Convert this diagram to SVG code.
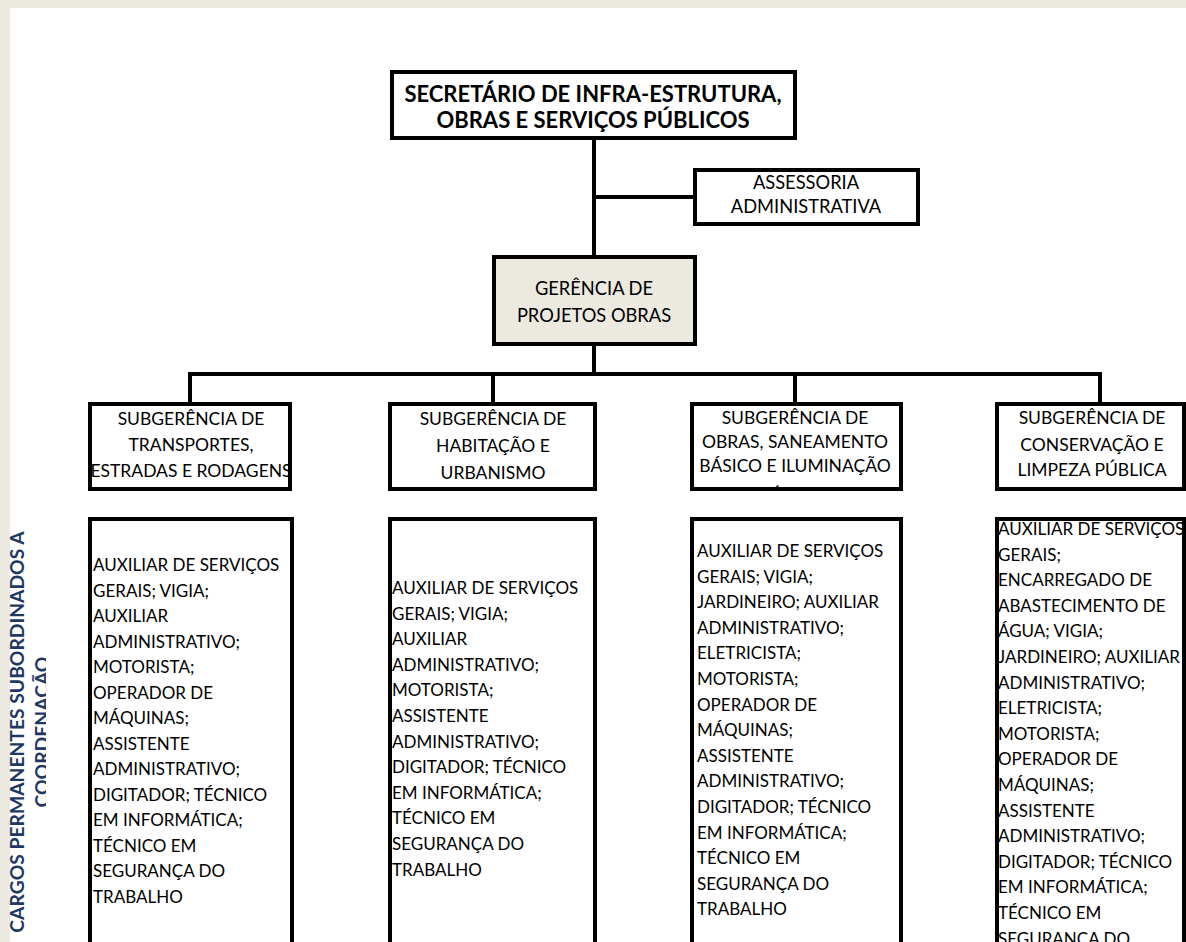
<svg xmlns="http://www.w3.org/2000/svg" width="1186" height="942" viewBox="0 0 1186 942">
<style>
.box{fill:#fff;stroke:#000;stroke-width:4}
.beige{fill:#ECE9E0}
.conn{stroke:#000;stroke-width:4;fill:none;stroke-linecap:square}
.t{font-family:Lato,"Liberation Sans",sans-serif;font-size:17px;fill:#000}
.s{font-family:Lato,"Liberation Sans",sans-serif;font-size:17.5px;fill:#000;text-anchor:middle}
.m{font-family:Lato,"Liberation Sans",sans-serif;font-size:18.3px;fill:#000;text-anchor:middle}
.title{font-family:Lato,"Liberation Sans",sans-serif;font-size:22px;font-weight:bold;fill:#000;text-anchor:middle}
.side{font-family:Lato,"Liberation Sans",sans-serif;font-size:19.3px;font-weight:bold;fill:#1F3864;text-anchor:middle}
</style>
<defs>
<clipPath id="clip3"><rect x="694" y="406" width="205" height="82"/></clipPath>
<clipPath id="clipSide"><rect x="0" y="0" width="46" height="942"/></clipPath>
</defs>
<rect x="0" y="0" width="1186" height="942" fill="#fff"/>
<rect x="0" y="0" width="1186" height="8" class="beige"/>
<rect x="0" y="0" width="10" height="942" class="beige"/>

<g id="side-label" clip-path="url(#clipSide)">
<text class="side" transform="translate(24,732) rotate(-90)">CARGOS PERMANENTES SUBORDINADOS A</text>
<text class="side" transform="translate(49,732) rotate(-90)">COORDENAÇÃO</text>
</g>

<g id="connectors">
<line class="conn" x1="594" y1="140" x2="594" y2="255"/>
<line class="conn" x1="594" y1="197" x2="693" y2="197"/>
<line class="conn" x1="594" y1="346" x2="594" y2="374"/>
<line class="conn" x1="190" y1="374" x2="1100" y2="374"/>
<line class="conn" x1="190" y1="374" x2="190" y2="402"/>
<line class="conn" x1="493" y1="374" x2="493" y2="402"/>
<line class="conn" x1="795" y1="374" x2="795" y2="402"/>
<line class="conn" x1="1100" y1="374" x2="1100" y2="402"/>
</g>

<g id="secretario">
<rect class="box" x="392" y="72" width="403" height="66"/>
<text class="title" x="593" y="102">SECRETÁRIO DE INFRA-ESTRUTURA,</text>
<text class="title" x="593" y="128">OBRAS E SERVIÇOS PÚBLICOS</text>
</g>

<g id="assessoria">
<rect class="box" x="695" y="170" width="223" height="54"/>
<text class="m" x="806" y="189">ASSESSORIA</text>
<text class="m" x="806" y="213">ADMINISTRATIVA</text>
</g>

<g id="gerencia">
<rect class="box" x="494" y="257" width="201" height="87" style="fill:#ECE9E0"/>
<text class="m" x="594" y="295">GERÊNCIA DE</text>
<text class="m" x="594" y="322">PROJETOS OBRAS</text>
</g>

<g id="sub-transportes">
<rect class="box" x="90" y="404" width="200" height="85"/>
<text class="s" x="191" y="425">SUBGERÊNCIA DE</text>
<text class="s" x="191" y="451">TRANSPORTES,</text>
<text class="s" x="191" y="477">ESTRADAS E RODAGENS</text>
</g>

<g id="sub-habitacao">
<rect class="box" x="390" y="404" width="205" height="85"/>
<text class="s" x="493" y="425">SUBGERÊNCIA DE</text>
<text class="s" x="493" y="452">HABITAÇÃO E</text>
<text class="s" x="493" y="479">URBANISMO</text>
</g>

<g id="sub-obras">
<rect class="box" x="692" y="404" width="209" height="85"/>
<g clip-path="url(#clip3)">
<text class="s" x="795" y="424">SUBGERÊNCIA DE</text>
<text class="s" x="795" y="448">OBRAS, SANEAMENTO</text>
<text class="s" x="795" y="472">BÁSICO E ILUMINAÇÃO</text>
<text class="s" x="795" y="502">PÚBLICA</text>
</g>
</g>

<g id="sub-conservacao">
<rect class="box" x="997" y="404" width="187" height="85"/>
<text class="s" x="1092" y="424">SUBGERÊNCIA DE</text>
<text class="s" x="1092" y="451">CONSERVAÇÃO E</text>
<text class="s" x="1092" y="476">LIMPEZA PÚBLICA</text>
</g>

<g id="cargos-transportes">
<rect class="box" x="90" y="519" width="202" height="440"/>
<text class="t" x="93" y="571">AUXILIAR DE SERVIÇOS</text>
<text class="t" x="93" y="596.5">GERAIS; VIGIA;</text>
<text class="t" x="93" y="622">AUXILIAR</text>
<text class="t" x="93" y="647.5">ADMINISTRATIVO;</text>
<text class="t" x="93" y="673">MOTORISTA;</text>
<text class="t" x="93" y="698.5">OPERADOR DE</text>
<text class="t" x="93" y="724">MÁQUINAS;</text>
<text class="t" x="93" y="749.5">ASSISTENTE</text>
<text class="t" x="93" y="775">ADMINISTRATIVO;</text>
<text class="t" x="93" y="800.5">DIGITADOR; TÉCNICO</text>
<text class="t" x="93" y="826">EM INFORMÁTICA;</text>
<text class="t" x="93" y="851.5">TÉCNICO EM</text>
<text class="t" x="93" y="877">SEGURANÇA DO</text>
<text class="t" x="93" y="902.5">TRABALHO</text>
</g>

<g id="cargos-habitacao">
<rect class="box" x="390" y="519" width="205" height="440"/>
<text class="t" x="392" y="594">AUXILIAR DE SERVIÇOS</text>
<text class="t" x="392" y="619.6">GERAIS; VIGIA;</text>
<text class="t" x="392" y="645.2">AUXILIAR</text>
<text class="t" x="392" y="670.8">ADMINISTRATIVO;</text>
<text class="t" x="392" y="696.4">MOTORISTA;</text>
<text class="t" x="392" y="722">ASSISTENTE</text>
<text class="t" x="392" y="747.6">ADMINISTRATIVO;</text>
<text class="t" x="392" y="773.2">DIGITADOR; TÉCNICO</text>
<text class="t" x="392" y="798.8">EM INFORMÁTICA;</text>
<text class="t" x="392" y="824.4">TÉCNICO EM</text>
<text class="t" x="392" y="850">SEGURANÇA DO</text>
<text class="t" x="392" y="875.6">TRABALHO</text>
</g>

<g id="cargos-obras">
<rect class="box" x="692" y="519" width="209" height="440"/>
<text class="t" x="697" y="557">AUXILIAR DE SERVIÇOS</text>
<text class="t" x="697" y="582.6">GERAIS; VIGIA;</text>
<text class="t" x="697" y="608.2">JARDINEIRO; AUXILIAR</text>
<text class="t" x="697" y="633.8">ADMINISTRATIVO;</text>
<text class="t" x="697" y="659.4">ELETRICISTA;</text>
<text class="t" x="697" y="685">MOTORISTA;</text>
<text class="t" x="697" y="710.6">OPERADOR DE</text>
<text class="t" x="697" y="736.2">MÁQUINAS;</text>
<text class="t" x="697" y="761.8">ASSISTENTE</text>
<text class="t" x="697" y="787.4">ADMINISTRATIVO;</text>
<text class="t" x="697" y="813">DIGITADOR; TÉCNICO</text>
<text class="t" x="697" y="838.6">EM INFORMÁTICA;</text>
<text class="t" x="697" y="864.2">TÉCNICO EM</text>
<text class="t" x="697" y="889.8">SEGURANÇA DO</text>
<text class="t" x="697" y="915.4">TRABALHO</text>
</g>

<g id="cargos-conservacao">
<rect class="box" x="997" y="519" width="187" height="440"/>
<text class="t" x="998" y="535">AUXILIAR DE SERVIÇOS</text>
<text class="t" x="998" y="560.6">GERAIS;</text>
<text class="t" x="998" y="586.2">ENCARREGADO DE</text>
<text class="t" x="998" y="611.8">ABASTECIMENTO DE</text>
<text class="t" x="998" y="637.4">ÁGUA; VIGIA;</text>
<text class="t" x="998" y="663">JARDINEIRO; AUXILIAR</text>
<text class="t" x="998" y="688.6">ADMINISTRATIVO;</text>
<text class="t" x="998" y="714.2">ELETRICISTA;</text>
<text class="t" x="998" y="739.8">MOTORISTA;</text>
<text class="t" x="998" y="765.4">OPERADOR DE</text>
<text class="t" x="998" y="791">MÁQUINAS;</text>
<text class="t" x="998" y="816.6">ASSISTENTE</text>
<text class="t" x="998" y="842.2">ADMINISTRATIVO;</text>
<text class="t" x="998" y="867.8">DIGITADOR; TÉCNICO</text>
<text class="t" x="998" y="893.4">EM INFORMÁTICA;</text>
<text class="t" x="998" y="919">TÉCNICO EM</text>
<text class="t" x="998" y="944.6">SEGURANÇA DO</text>
</g>
</svg>
